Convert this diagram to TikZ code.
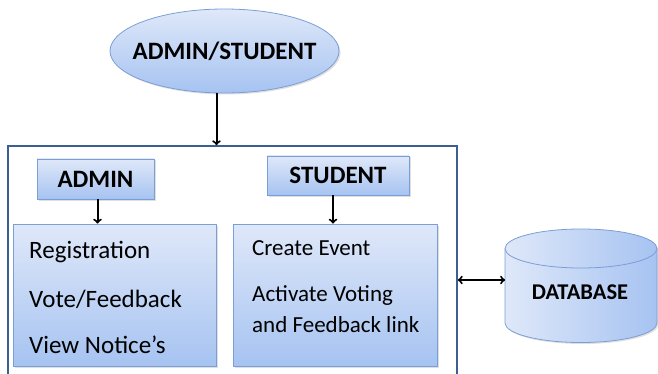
\documentclass[tikz,border=0pt]{standalone}
\usepackage{fontspec}
\setmainfont{Carlito}
\usetikzlibrary{arrows,shapes.geometric,shadows}
\definecolor{boxtop}{HTML}{DFE8F9}
\definecolor{boxbot}{HTML}{A6C3F1}
\definecolor{boxline}{HTML}{7C9ED6}
\definecolor{frameline}{HTML}{3C5F93}

\begin{document}
\begin{tikzpicture}[x=1pt,y=-1pt,
  shadebox/.style={draw=boxline, line width=0.8pt, top color=boxtop, bottom color=boxbot,
    drop shadow={shadow xshift=1.5pt,shadow yshift=-1.5pt,opacity=0.25}},
  rolebox/.style={shadebox, inner sep=0pt, font=\fontsize{25}{28}\selectfont\bfseries},
  listbox/.style={shadebox, inner sep=0pt},
  item/.style={anchor=base west, inner sep=0pt},
  arr/.style={->, >=to, line width=2pt}]
\useasboundingbox (0,0) rectangle (658,374);
% outer frame (runs off the bottom)
\node[draw=frameline, line width=1.6pt, minimum width=449pt, minimum height=250pt] (frame) at (232.5,271) {};
% user ellipse on top
\node[shadebox, ellipse, minimum width=229pt, minimum height=84pt, inner xsep=-20pt, inner ysep=0pt,
  font=\fontsize{25}{28}\selectfont\bfseries] (user) at (224.5,51) {ADMIN/STUDENT};
\draw[arr] ([xshift=-8pt]user.south) -- ([xshift=-8pt]user.south |- frame.north);
% admin side
\node[rolebox, minimum width=117pt, minimum height=40pt] (admin) at (95.5,179) {ADMIN};
\node[listbox, minimum width=203pt, minimum height=142pt] (adminlist) at (114.5,295) {};
\draw[arr] ([xshift=2pt]admin.south) -- ([xshift=2pt]admin.south |- adminlist.north);
\begin{scope}[every node/.style={item, font=\fontsize{25}{28}\selectfont}]
\node (reg) at (29,258) {Registration};
\node (vote) at (29,307) {Vote/Feedback};
\node (notice) at (29,353) {View Notice’s};
\end{scope}
% student side
\node[rolebox, minimum width=142pt, minimum height=39pt] (student) at (338,175.5) {STUDENT};
\node[listbox, minimum width=204pt, minimum height=142pt] (studentlist) at (335,295) {};
\draw[arr] ([xshift=-5pt]student.south) -- ([xshift=-5pt]student.south |- studentlist.north);
\begin{scope}[every node/.style={item, font=\fontsize{23}{26}\selectfont}]
\node (event) at (252,255) {Create Event};
\node (activate) at (252,301) {Activate Voting};
\node (link) at (252,332) {and Feedback link};
\end{scope}
% database cylinder
\draw[draw=boxline, line width=0.8pt, left color=boxtop, right color=boxbot,
  drop shadow={shadow xshift=1.5pt,shadow yshift=-1.5pt,opacity=0.25}]
  (505,248.5) -- (505,323) arc (180:360:76pt and 19.5pt) -- (657,248.5)
  arc (0:180:76pt and 19.5pt) -- cycle;
\draw[boxline, line width=0.8pt] (505,248.5) arc (180:360:76pt and 19.5pt);
\coordinate (dbside) at (505,280);
\node[font=\fontsize{22.5}{26}\selectfont\bfseries] (db) at (580,292) {DATABASE};
\draw[arr, <->] (dbside -| frame.east) -- (dbside);
\end{tikzpicture}
\end{document}
